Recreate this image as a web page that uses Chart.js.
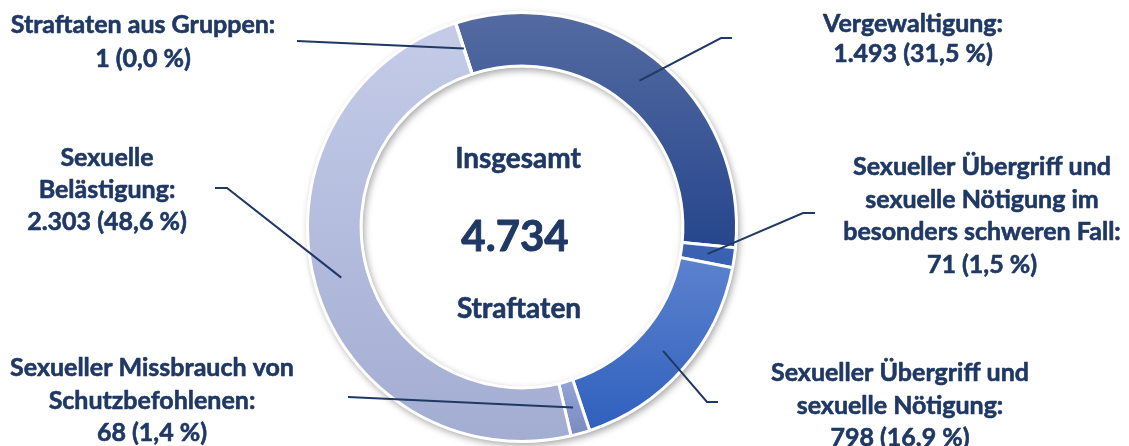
<!DOCTYPE html>
<html lang="de">
<head>
<meta charset="utf-8">
<title>Straftaten gegen die sexuelle Selbstbestimmung</title>
<script src="https://cdn.jsdelivr.net/npm/chart.js@4.4.1/dist/chart.umd.min.js"></script>
<style>
  html, body { margin: 0; padding: 0; background: #fff; }
  #wrap { width: 1129px; height: 446px; }
</style>
</head>
<body>
<div id="wrap"><canvas id="donut" width="1129" height="446"></canvas></div>
<script>
const categories = [
    ['Vergewaltigung:'],
    ['Sexueller Übergriff und', 'sexuelle Nötigung im', 'besonders schweren Fall:'],
    ['Sexueller Übergriff und', 'sexuelle Nötigung:'],
    ['Sexueller Missbrauch von', 'Schutzbefohlenen:'],
    ['Sexuelle', 'Belästigung:'],
    ['Straftaten aus Gruppen:']
];
const cases = [1493, 71, 798, 68, 2303, 1];
const centerTitle = 'Insgesamt';
const centerUnit = 'Straftaten';

// vertical gradient per segment, lighter at the top
const colorsTop = ['#546BA1', '#3D62B0', '#5C82CE', '#93A3D6', '#C4CCE8', '#C4CCE8'];
const colorsBottom = ['#26468C', '#3760B4', '#2F60BD', '#7A8BC0', '#A3ADD2', '#C1C9E6'];

// where each label sits and where its leader line starts
const labelLayout = [
    { x: 913, y: 24, lh: 30, leader: [[732, 38], [721, 38]] },
    { x: 982, y: 167, lh: 32.5, leader: [[815, 213], [803, 213]] },
    { x: 900, y: 373, lh: 32.5, leader: [[718, 402], [707, 402]] },
    { x: 152, y: 368, lh: 32.5, leader: [[348, 397]] },
    { x: 107, y: 158, lh: 32, leader: [[215, 188], [227, 188]] },
    { x: 143, y: 25, lh: 34, leader: [[297, 41]] }
];

const ROTATION = -18;
const CUTOUT = 75;
const BORDER = 3;
const TEXT_COLOR = '#1F3864';
const FONT = 'Lato, "Open Sans", sans-serif';

const total = cases.reduce((a, b) => a + b, 0);

function fmtInt(v) {
    return String(v).replace(/\B(?=(\d{3})+(?!\d))/g, '.');
}

function fmtPct(v) {
    return (v / total * 100).toFixed(1).replace('.', ',');
}

// top and bottom y of a segment, used to span its gradient
function arcExtent(chart, i) {
    const area = chart.chartArea;
    const cy = (area.top + area.bottom) / 2;
    const rOut = (Math.min(area.width, area.height) - BORDER) / 2;
    const rIn = rOut * CUTOUT / 100;
    let start = ROTATION;
    for (let j = 0; j < i; j++) start += cases[j] / total * 360;
    const end = start + cases[i] / total * 360;
    let top = Infinity, bottom = -Infinity;
    let a = start;
    while (true) {
        const c = Math.cos(a * Math.PI / 180);
        [rIn, rOut].forEach(r => {
            const y = cy - r * c;
            top = Math.min(top, y);
            bottom = Math.max(bottom, y);
        });
        if (a >= end) break;
        a = Math.min(a + 2, end);
    }
    return { top, bottom };
}

function segmentFill(context) {
    const chart = context.chart;
    const i = context.dataIndex;
    if (i === undefined) return colorsTop[0];
    if (!chart.chartArea) return colorsTop[i];
    const ext = arcExtent(chart, i);
    const g = chart.ctx.createLinearGradient(0, ext.top, 0, Math.max(ext.bottom, ext.top + 1));
    g.addColorStop(0, colorsTop[i]);
    g.addColorStop(1, colorsBottom[i]);
    return g;
}

// soft shadow under the whole ring, drawn once before the segments
const ringShadow = {
    id: 'ringShadow',
    beforeDatasetsDraw(chart) {
        const arc = chart.getDatasetMeta(0).data[0];
        if (!arc) return;
        const ctx = chart.ctx;
        ctx.save();
        ctx.shadowColor = 'rgba(0, 0, 0, 0.35)';
        ctx.shadowBlur = 7;
        ctx.shadowOffsetX = 2;
        ctx.shadowOffsetY = 3;
        ctx.beginPath();
        ctx.arc(arc.x, arc.y, arc.outerRadius + 1, 0, Math.PI * 2);
        ctx.arc(arc.x, arc.y, arc.innerRadius - 1, 0, Math.PI * 2, true);
        ctx.fillStyle = '#fff';
        ctx.fill();
        ctx.restore();
    }
};

// bold text with a hairline stroke so it reads a bit heavier
function heavyText(ctx, t, x, y) {
    ctx.fillText(t, x, y);
    ctx.strokeText(t, x, y);
}

// leader lines, segment labels and the total in the hole
const calloutLabels = {
    id: 'calloutLabels',
    afterDatasetsDraw(chart) {
        const ctx = chart.ctx;
        const arcs = chart.getDatasetMeta(0).data;
        ctx.save();
        ctx.strokeStyle = TEXT_COLOR;
        ctx.lineWidth = 2;
        arcs.forEach((arc, i) => {
            const p = arc.getCenterPoint();
            const pts = labelLayout[i].leader;
            ctx.beginPath();
            ctx.moveTo(pts[0][0], pts[0][1]);
            for (let k = 1; k < pts.length; k++) ctx.lineTo(pts[k][0], pts[k][1]);
            ctx.lineTo(p.x, p.y);
            ctx.stroke();
        });

        ctx.fillStyle = TEXT_COLOR;
        ctx.lineWidth = 0.6;
        ctx.lineJoin = 'round';
        ctx.textAlign = 'center';
        ctx.textBaseline = 'middle';
        ctx.font = 'bold 25px ' + FONT;
        cases.forEach((v, i) => {
            const lay = labelLayout[i];
            const lines = categories[i].concat([fmtInt(v) + ' (' + fmtPct(v) + ' %)']);
            lines.forEach((t, k) => heavyText(ctx, t, lay.x, lay.y + k * lay.lh));
        });

        const arc = arcs[0];
        ctx.font = 'bold 28px ' + FONT;
        heavyText(ctx, centerTitle, arc.x - 4, arc.y - 68);
        heavyText(ctx, centerUnit, arc.x - 3, arc.y + 82);
        ctx.font = 'bold 42px ' + FONT;
        ctx.lineWidth = 0.9;
        heavyText(ctx, fmtInt(total), arc.x - 7, arc.y + 10);
        ctx.restore();
    }
};

const ctx = document.getElementById('donut').getContext('2d');
const donut = new Chart(ctx, {
    type: 'doughnut',
    data: {
        labels: categories,
        datasets: [{
            data: cases,
            backgroundColor: segmentFill,
            borderColor: '#fff',
            borderWidth: BORDER
        }]
    },
    options: {
        responsive: false,
        animation: false,
        events: [],
        rotation: ROTATION,
        cutout: CUTOUT + '%',
        layout: {
            padding: { top: 11, bottom: 3, left: 306, right: 391 }
        },
        plugins: {
            legend: { display: false },
            tooltip: { enabled: false }
        }
    },
    plugins: [ringShadow, calloutLabels]
});
</script>
</body>
</html>
